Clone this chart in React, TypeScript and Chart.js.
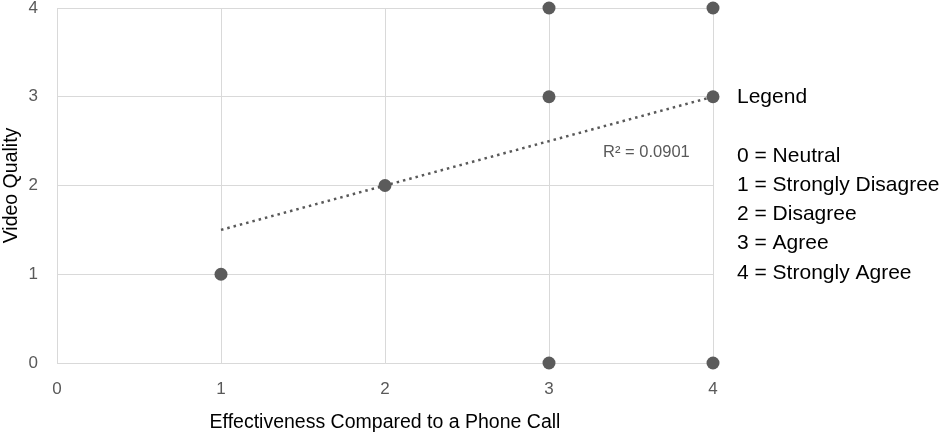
import React, { useEffect, useRef } from "react";
import { Chart, registerables } from "chart.js";

Chart.register(...registerables);

const pointX = [1, 2, 3, 3, 3, 4, 4, 4];
const pointY = [1, 2, 0, 3, 4, 0, 3, 4];
const trendX = [1, 4];
const trendY = [1.5, 3];
const xTicks = [0, 1, 2, 3, 4];
const yTicks = [0, 1, 2, 3, 4];
const r2Label = "R² = 0.0901";
const legendTitle = "Legend";
const legendLines = [
  "0 = Neutral",
  "1 = Strongly Disagree",
  "2 = Disagree",
  "3 = Agree",
  "4 = Strongly Agree",
];
const xTitle = "Effectiveness Compared to a Phone Call";
const yTitle = "Video Quality";

const FONT = "'Liberation Sans', Arial, sans-serif";

export default function App() {
  const ref = useRef<HTMLCanvasElement | null>(null);

  useEffect(() => {
    document.body.style.margin = "0";
    if (!ref.current) return;

    const textPlugin = {
      id: "sideText",
      afterDraw(chart: any) {
        const ctx = chart.ctx;
        const xs = chart.scales.x;
        const ys = chart.scales.y;
        ctx.save();
        ctx.fillStyle = "#595959";
        ctx.font = `16.5px ${FONT}`;
        ctx.textAlign = "left";
        ctx.textBaseline = "middle";
        ctx.fillText(r2Label, xs.getPixelForValue(3.33), ys.getPixelForValue(2.37));
        ctx.fillStyle = "#000000";
        ctx.font = `21px ${FONT}`;
        const lx = 737;
        ctx.fillText(legendTitle, lx, 97);
        legendLines.forEach((t, i) => {
          ctx.fillText(t, lx, 156 + i * 29.2);
        });
        ctx.restore();
      },
    };

    const chart = new Chart(ref.current, {
      type: "scatter",
      data: {
        datasets: [
          {
            type: "line",
            data: trendX.map((x, i) => ({ x, y: trendY[i] })),
            borderColor: "#595959",
            borderWidth: 2.5,
            borderDash: [2.5, 4],
            pointRadius: 0,
            fill: false,
            clip: false,
            order: 2,
          } as any,
          {
            data: pointX.map((x, i) => ({ x, y: pointY[i] })),
            backgroundColor: "#5b5b5b",
            borderColor: "#5b5b5b",
            borderWidth: 0,
            pointRadius: 6.5,
            clip: false,
            order: 1,
          } as any,
        ],
      },
      plugins: [textPlugin],
      options: {
        animation: false,
        responsive: true,
        maintainAspectRatio: false,
        layout: { padding: { top: 8, right: 232, bottom: 0, left: 0 } },
        plugins: {
          legend: { display: false },
          tooltip: { enabled: false },
        },
        scales: {
          x: {
            type: "linear",
            min: 0,
            max: 4,
            afterBuildTicks: (s: any) => {
              s.ticks = xTicks.map((v) => ({ value: v }));
            },
            afterFit: (s: any) => {
              s.height = 71;
              s.paddingLeft = 0;
              s.paddingRight = 0;
              s.paddingTop = 0;
              s.paddingBottom = 0;
            },
            grid: { color: "#d9d9d9", lineWidth: 1, drawTicks: false },
            border: { color: "#d9d9d9" },
            ticks: {
              color: "#595959",
              font: { family: FONT, size: 17 },
              padding: 16,
            },
            title: {
              display: true,
              text: xTitle,
              color: "#000000",
              font: { family: FONT, size: 19.5 },
              padding: { top: 0, bottom: 0 },
            },
          },
          y: {
            type: "linear",
            min: 0,
            max: 4,
            afterBuildTicks: (s: any) => {
              s.ticks = yTicks.map((v) => ({ value: v }));
            },
            afterFit: (s: any) => {
              s.width = 57;
              s.paddingLeft = 0;
              s.paddingRight = 0;
              s.paddingTop = 0;
              s.paddingBottom = 0;
            },
            grid: { color: "#d9d9d9", lineWidth: 1, drawTicks: false },
            border: { color: "#d9d9d9" },
            ticks: {
              color: "#595959",
              font: { family: FONT, size: 17 },
              padding: 19,
            },
            title: {
              display: true,
              text: yTitle,
              color: "#000000",
              font: { family: FONT, size: 19.5 },
              padding: { top: 0, bottom: 0 },
            },
          },
        },
      },
    });

    return () => chart.destroy();
  }, []);

  return (
    <div style={{ position: "absolute", left: 0, top: 0, width: 945, height: 434 }}>
      <canvas ref={ref} />
    </div>
  );
}
